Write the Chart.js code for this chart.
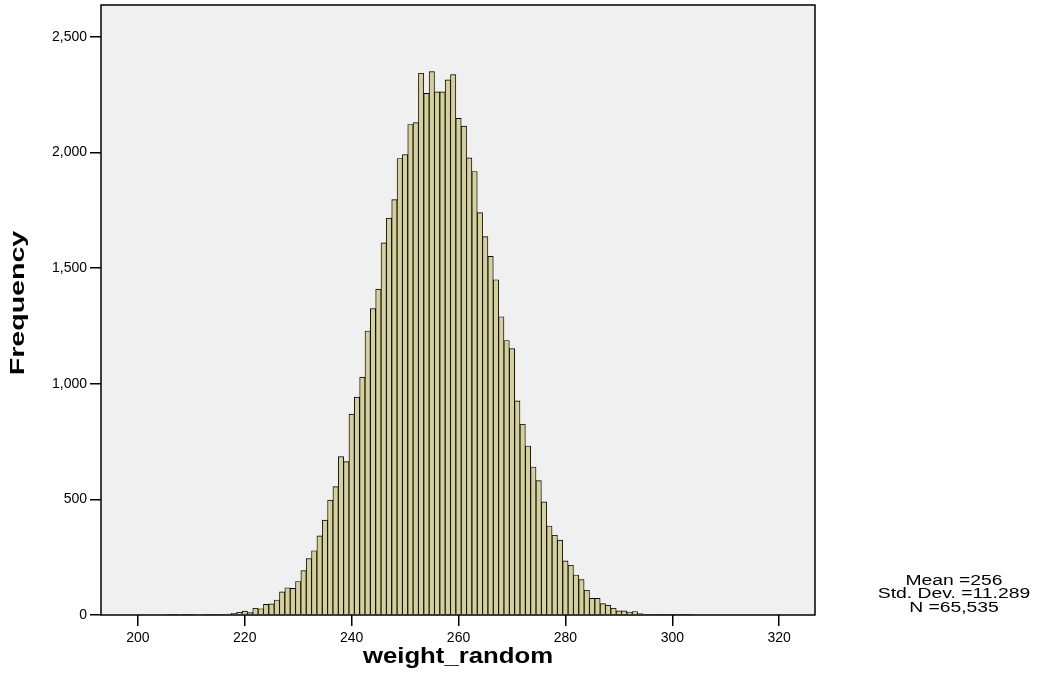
<!DOCTYPE html>
<html>
<head>
<meta charset="utf-8">
<script src="https://cdn.jsdelivr.net/npm/chart.js@4.4.1/dist/chart.umd.min.js"></script>
<style>
  html, body { margin: 0; padding: 0; background: #fff; }
  #wrap { width: 1039px; height: 687px; }
</style>
</head>
<body>
<div id="wrap"><canvas id="hist" width="1039" height="687"></canvas></div>
<script>
// histogram bins (value = integer weight), counts
const binValues = [
  206, 207, 208, 209, 210, 211, 212, 213, 214, 215, 216, 217, 218, 219, 220,
  221, 222, 223, 224, 225, 226, 227, 228, 229, 230, 231, 232, 233, 234, 235,
  236, 237, 238, 239, 240, 241, 242, 243, 244, 245, 246, 247, 248, 249, 250,
  251, 252, 253, 254, 255, 256, 257, 258, 259, 260, 261, 262, 263, 264, 265,
  266, 267, 268, 269, 270, 271, 272, 273, 274, 275, 276, 277, 278, 279, 280,
  281, 282, 283, 284, 285, 286, 287, 288, 289, 290, 291, 292, 293, 294, 295,
  296, 297, 298, 299, 300, 301, 302, 303
]
const frequencies = [
  1, 1, 0, 1, 1, 0, 0, 1, 2, 2, 2, 4, 7, 12, 17,
  10, 29, 27, 46, 48, 65, 100, 118, 115, 145, 192, 244, 278, 342, 410,
  497, 555, 685, 663, 869, 942, 1029, 1228, 1325, 1409, 1609, 1716, 1796, 1974, 1991,
  2121, 2129, 2343, 2256, 2350, 2262, 2262, 2314, 2337, 2148, 2114, 1977, 1918, 1740, 1636,
  1551, 1450, 1290, 1187, 1152, 926, 825, 731, 640, 581, 489, 385, 345, 324, 234,
  215, 173, 153, 107, 72, 72, 49, 43, 29, 18, 18, 13, 15, 6, 3,
  2, 2, 1, 2, 1, 2, 1, 1
]
const xTicks = [200, 220, 240, 260, 280, 300, 320]
const yTicks = [0, 500, 1000, 1500, 2000, 2500]
const xTitle = "weight_random"
const yTitle = "Frequency"
const statLines = ["Mean =256", "Std. Dev. =11.289", "N =65,535"]

const FONT = "'Liberation Sans', Arial, sans-serif"
Chart.defaults.font.family = FONT
Chart.defaults.color = "#000"

// text in the original is drawn a bit wide, so stretch it along the reading direction
function wideText(ctx, text, x, y, font, stretch, angle) {
  ctx.save()
  ctx.translate(x, y)
  if (angle) ctx.rotate(angle)
  ctx.scale(stretch, 1)
  ctx.font = font
  ctx.fillStyle = "#000"
  ctx.textAlign = "center"
  ctx.textBaseline = "middle"
  ctx.fillText(text, 0, 0)
  ctx.restore()
}

// grey plot background, black frame, titles and the stats box
const plotFrame = {
  id: "plotFrame",
  beforeDraw(chart) {
    const { ctx, chartArea: a } = chart
    ctx.save()
    ctx.fillStyle = "#f0f0f0"
    ctx.fillRect(a.left, a.top, a.right - a.left, a.bottom - a.top)
    ctx.restore()
  },
  afterDraw(chart) {
    const { ctx, chartArea: a } = chart
    ctx.save()
    ctx.strokeStyle = "#000"
    ctx.lineWidth = 1.5
    ctx.strokeRect(a.left, a.top, a.right - a.left, a.bottom - a.top)
    ctx.restore()

    wideText(ctx, xTitle, (a.left + a.right) / 2, 657, "bold 22px " + FONT, 1.17)
    wideText(ctx, yTitle, 18, 303, "bold 21px " + FONT, 1.36, -Math.PI / 2)
    statLines.forEach((t, i) => wideText(ctx, t, 954, 581 + i * 13.5, "14px " + FONT, 1.38))
  }
}

new Chart(document.getElementById("hist"), {
  type: "bar",
  data: {
    datasets: [
      {
        data: binValues.map((v, i) => ({ x: v, y: frequencies[i] })),
        backgroundColor: "#d5d09a",
        borderColor: "#000",
        borderWidth: 0.9,
        categoryPercentage: 1,
        barPercentage: 1
      }
    ]
  },
  options: {
    responsive: false,
    animation: false,
    layout: { padding: { left: 0, right: 224, top: 5, bottom: 0 } },
    plugins: {
      legend: { display: false },
      tooltip: { enabled: false }
    },
    scales: {
      x: {
        type: "linear",
        offset: false,
        min: 193.1,
        max: 326.7,
        afterBuildTicks: (s) => { s.ticks = xTicks.map((v) => ({ value: v })) },
        afterFit: (s) => { s.height = 72; s.paddingLeft = 0; s.paddingRight = 0 },
        grid: { offset: false, drawOnChartArea: false, tickLength: 11, color: "#000", lineWidth: 1.5 },
        border: { display: false },
        ticks: { font: { size: 14 }, padding: 4, maxRotation: 0, autoSkip: false }
      },
      y: {
        min: 0,
        max: 2638,
        afterBuildTicks: (s) => { s.ticks = yTicks.map((v) => ({ value: v })) },
        afterFit: (s) => { s.width = 101; s.paddingTop = 0; s.paddingBottom = 0 },
        grid: { drawOnChartArea: false, tickLength: 11, color: "#000", lineWidth: 1.5 },
        border: { display: false },
        ticks: {
          font: { size: 14 },
          padding: 3,
          callback: (v) => v.toLocaleString("en-US")
        }
      }
    }
  },
  plugins: [plotFrame]
})
</script>
</body>
</html>
